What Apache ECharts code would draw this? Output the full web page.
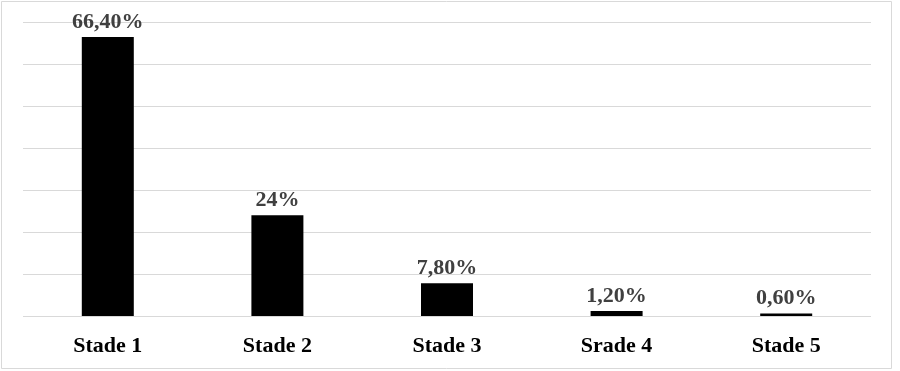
<!DOCTYPE html>
<html>
<head>
<meta charset="utf-8">
<script src="https://cdn.jsdelivr.net/npm/echarts@6/dist/echarts.min.js"></script>
<style>
html,body{margin:0;padding:0;background:#fff;}
#chart{width:900px;height:371px;}
</style>
</head>
<body>
<div id="chart"></div>
<script>
var categories = ['Stade 1', 'Stade 2', 'Stade 3', 'Srade 4', 'Stade 5'];
var values = [66.4, 24, 7.8, 1.2, 0.6];
var valueLabels = ['66,40%', '24%', '7,80%', '1,20%', '0,60%'];

var chart = echarts.init(document.getElementById('chart'), null, {renderer: 'canvas'});
chart.setOption({
  animation: false,
  backgroundColor: '#ffffff',
  graphic: [{
    type: 'rect',
    shape: {x: 1.5, y: 1.5, width: 890, height: 367},
    style: {fill: 'none', stroke: '#d9d9d9', lineWidth: 1},
    silent: true
  }],
  grid: {left: 23, right: 29, top: 22, bottom: 55, containLabel: false},
  xAxis: {
    type: 'category',
    data: categories,
    axisLine: {show: false},
    axisTick: {show: false},
    axisLabel: {
      margin: 19,
      color: '#000000',
      fontFamily: '"Liberation Serif", "Times New Roman", serif',
      fontWeight: 'bold',
      fontSize: 22
    }
  },
  yAxis: {
    type: 'value',
    min: 0,
    max: 70,
    interval: 10,
    axisLabel: {show: false},
    axisLine: {show: false},
    axisTick: {show: false},
    splitLine: {lineStyle: {color: '#d9d9d9', width: 1}}
  },
  series: [{
    type: 'bar',
    data: values,
    barWidth: 52,
    itemStyle: {color: '#000000'},
    label: {
      show: true,
      position: 'top',
      distance: 4,
      color: '#404040',
      fontFamily: '"Liberation Serif", "Times New Roman", serif',
      fontWeight: 'bold',
      fontSize: 22,
      formatter: function (p) { return valueLabels[p.dataIndex]; }
    }
  }]
});
</script>
</body>
</html>
